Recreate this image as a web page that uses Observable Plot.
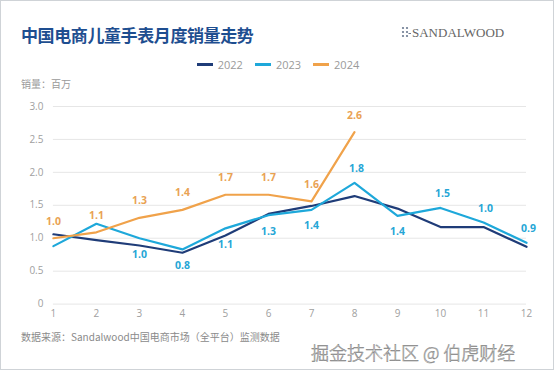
<!DOCTYPE html>
<html><head><meta charset="utf-8">
<script src="https://cdn.jsdelivr.net/npm/d3@7"></script>
<script src="https://cdn.jsdelivr.net/npm/@observablehq/plot@0.6"></script>
<style>
html,body{margin:0;padding:0;background:#fff;}
#wrap{position:relative;width:552px;height:368px;border:1px solid #cfd3d7;overflow:hidden;font-family:"Open Sans","Noto Sans CJK SC",sans-serif;}
.abs{position:absolute;white-space:nowrap;}
#title{left:20px;top:21px;font-size:17px;font-weight:700;color:#1e4e90;font-family:"Noto Sans CJK SC",sans-serif;letter-spacing:-0.4px;}
#logo{left:400px;top:24px;display:flex;align-items:center;}
#logo span{font-family:"Liberation Serif","DejaVu Serif",serif;font-size:13px;color:#666;letter-spacing:0;margin-left:1px;}
#legend{left:0;top:56px;width:554px;display:flex;justify-content:center;gap:12px;font-size:11px;color:#9a9a9a;}
#legend .it{display:flex;align-items:center;}
#legend .sw{width:16px;height:3px;margin-right:5px;}
#unit{left:20px;top:75px;font-size:10px;color:#9a9a9a;font-family:"Noto Sans CJK SC",sans-serif;}
#chart{left:-1px;top:91px;}
#source{left:20px;top:328px;font-size:10px;color:#8a8a8a;font-family:"Noto Sans CJK SC",sans-serif;}
#wm{left:310px;top:338px;font-size:18px;color:#fafafa;font-family:"Noto Sans CJK SC",sans-serif;font-weight:300;-webkit-text-stroke:0.5px #7a7a7a;}
</style>
</head><body>
<div id="wrap">
  <div id="title" class="abs">中国电商儿童手表月度销量走势</div>
  <div id="logo" class="abs"><svg width="10" height="14" viewBox="0 0 10 14"><g fill="#6b7a90"><circle cx="2" cy="2" r="1.1"/><circle cx="6" cy="2" r="1.1"/><circle cx="2" cy="6" r="1.1"/><circle cx="6" cy="6" r="1.1"/><circle cx="2" cy="10" r="1.1"/><circle cx="6" cy="10" r="1.1"/><rect x="7.5" y="7" width="2.5" height="1"/></g></svg><span>SANDALWOOD</span></div>
  <div id="legend" class="abs"></div>
  <div id="unit" class="abs">销量：百万</div>
  <div id="chart" class="abs"></div>
  <div id="source" class="abs">数据来源：Sandalwood中国电商市场（全平台）监测数据</div>
  <div id="wm" class="abs">掘金技术社区 @ 伯虎财经</div>
</div>
<script>
const months = [1,2,3,4,5,6,7,8,9,10,11,12];
const years = ["2022","2023","2024"];
const colors = ["#1f3c78","#1ea8da","#f0a24a"];
const labelColors = ["#1f3c78","#26a6d6","#e9a253"];
const v2022 = [1.06,0.97,0.89,0.78,1.04,1.37,1.49,1.64,1.45,1.17,1.17,0.87];
const v2023 = [0.88,1.22,1.00,0.83,1.15,1.35,1.43,1.84,1.34,1.46,1.24,0.93];
const v2024 = [1.00,1.09,1.31,1.43,1.66,1.66,1.56,2.61];
const labels2023 = [null,null,"1.0","0.8","1.1","1.3","1.4","1.8","1.4","1.5","1.0","0.9"];
const side2023 = [null,null,"below","below","below","below","below","above","below","above","above","above"];
const labels2024 = ["1.0","1.1","1.3","1.4","1.7","1.7","1.6","2.6"];
const yTicks = [0,0.5,1,1.5,2,2.5,3];

const series = [v2022, v2023, v2024];
const rows = [];
series.forEach((vals, i) => vals.forEach((v, j) => rows.push({year: years[i], month: months[j], value: v})));

const lab23 = labels2023.map((t, j) => ({month: months[j], value: v2023[j], text: t, side: side2023[j]})).filter(d => d.text);
const lab24 = labels2024.map((t, j) => ({month: months[j], value: v2024[j], text: t}));

// legend
const leg = document.getElementById("legend");
years.forEach((y, i) => {
  const it = document.createElement("div"); it.className = "it";
  it.innerHTML = `<div class="sw" style="background:${colors[i]}"></div><span>${y}</span>`;
  leg.appendChild(it);
});

const chart = Plot.plot({
  width: 554,
  height: 232,
  marginLeft: 53,
  marginRight: 27,
  marginTop: 14,
  marginBottom: 20,
  style: {fontFamily: '"Open Sans","Noto Sans CJK SC",sans-serif', fontSize: "10px", color: "#9a9a9a", background: "transparent"},
  x: {domain: [1, 12], ticks: months, tickFormat: d => String(d), tickSize: 0, tickPadding: 6, label: null},
  y: {domain: [0, 3], ticks: yTicks, tickFormat: d => d === 0 ? "0" : d.toFixed(1), tickSize: 0, tickPadding: 10, label: null},
  color: {domain: years, range: colors},
  marks: [
    Plot.gridY(yTicks, {stroke: "#e6e6e6", strokeOpacity: 1, strokeWidth: 1}),
    Plot.axisX({tickSize: 0, tickPadding: 6, ticks: months, tickFormat: d => String(d), fill: "#a0a0a0"}),
    Plot.axisY({tickSize: 0, tickPadding: 10, ticks: yTicks, tickFormat: d => d === 0 ? "0" : d.toFixed(1), fill: "#a0a0a0"}),
    Plot.line(rows, {x: "month", y: "value", z: "year", stroke: "year", strokeWidth: 2.2, curve: "linear"}),
    Plot.text(lab24, {x: "month", y: "value", text: "text", dy: -17, fill: labelColors[2], fontWeight: 700, fontSize: 10.5}),
    Plot.text(lab23.filter(d => d.side === "above"), {x: "month", y: "value", text: "text", dy: -14, dx: 2, fill: labelColors[1], fontWeight: 700, fontSize: 10.5}),
    Plot.text(lab23.filter(d => d.side === "below"), {x: "month", y: "value", text: "text", dy: 16, fill: labelColors[1], fontWeight: 700, fontSize: 10.5})
  ]
});
document.getElementById("chart").appendChild(chart);
</script>
</body></html>
